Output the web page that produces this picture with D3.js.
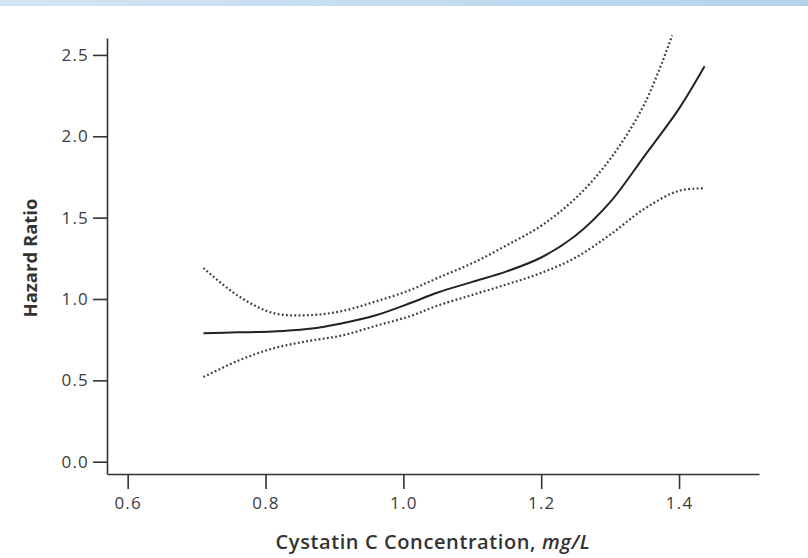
<!DOCTYPE html>
<html>
<head>
<meta charset="utf-8">
<script src="https://cdn.jsdelivr.net/npm/d3@7"></script>
<style>
  html, body { margin: 0; padding: 0; background: #fff; }
  svg { display: block; }
</style>
</head>
<body>
<svg id="chart" width="808" height="558"></svg>
<script>
// ---- data ----
const xTicks = [0.6, 0.8, 1.0, 1.2, 1.4];
const yTicks = [0.0, 0.5, 1.0, 1.5, 2.0, 2.5];

const xSolid = [0.71, 0.76, 0.81, 0.86, 0.91, 0.96, 1.01, 1.05, 1.10, 1.15, 1.20, 1.25, 1.30, 1.35, 1.40, 1.437];
const hrSolid = [0.79, 0.795, 0.80, 0.815, 0.85, 0.90, 0.975, 1.04, 1.105, 1.17, 1.255, 1.39, 1.595, 1.88, 2.17, 2.43];

const xUpper = [0.71, 0.76, 0.81, 0.86, 0.91, 0.96, 1.01, 1.05, 1.10, 1.15, 1.20, 1.25, 1.30, 1.35, 1.39];
const hrUpper = [1.19, 1.02, 0.915, 0.90, 0.925, 0.985, 1.055, 1.13, 1.22, 1.33, 1.45, 1.62, 1.86, 2.20, 2.62];

const xLower = [0.71, 0.76, 0.81, 0.86, 0.91, 0.96, 1.01, 1.05, 1.10, 1.15, 1.20, 1.25, 1.30, 1.35, 1.40, 1.437];
const hrLower = [0.52, 0.62, 0.695, 0.74, 0.775, 0.835, 0.895, 0.96, 1.025, 1.09, 1.16, 1.255, 1.395, 1.555, 1.665, 1.68];

const xTitle = "Cystatin C Concentration, ";
const xUnit = "mg/L";
const yTitle = "Hazard Ratio";

// ---- drawing ----
const svg = d3.select("#chart");
const font = "'Open Sans', 'Noto Sans', sans-serif";

// top gradient band
const defs = svg.append("defs");
const grad = defs.append("linearGradient").attr("id", "band").attr("x1", "0").attr("x2", "1");
grad.append("stop").attr("offset", "0").attr("stop-color", "#d5e5f4");
grad.append("stop").attr("offset", "1").attr("stop-color", "#b3d3ec");
svg.append("rect").attr("x", 0).attr("y", 0).attr("width", 808).attr("height", 6).attr("fill", "url(#band)");

const x = d3.scaleLinear().domain([0.57, 1.516]).range([107, 759]);
const y = d3.scaleLinear().domain([-0.0756, 2.604]).range([474, 38]);

const ax = svg.append("g").attr("transform", `translate(0,${y.range()[0]})`)
  .call(d3.axisBottom(x).tickValues(xTicks).tickFormat(d3.format(".1f")).tickSize(15).tickPadding(8).tickSizeOuter(0));
const ay = svg.append("g").attr("transform", `translate(${x.range()[0]},0)`)
  .call(d3.axisLeft(y).tickValues(yTicks).tickFormat(d3.format(".1f")).tickSize(14).tickPadding(4).tickSizeOuter(0));

[ax, ay].forEach(g => {
  g.selectAll("path.domain").attr("stroke", "#333").attr("stroke-width", 1.6);
  g.selectAll(".tick line").attr("stroke", "#333").attr("stroke-width", 1.6);
  g.selectAll(".tick text").attr("fill", "#3c3c3c").style("font-family", font)
    .style("font-size", "17px").style("letter-spacing", "1.2px");
});

const line = d3.line().x(d => x(d[0])).y(d => y(d[1])).curve(d3.curveCatmullRom.alpha(0.5));

const solid = xSolid.map((v, i) => [v, hrSolid[i]]);
const upper = xUpper.map((v, i) => [v, hrUpper[i]]);
const lower = xLower.map((v, i) => [v, hrLower[i]]);

[upper, lower].forEach(data => {
  svg.append("path").datum(data).attr("d", line)
    .attr("fill", "none").attr("stroke", "#3a3a3a").attr("stroke-width", 2.2)
    .attr("stroke-dasharray", "1.8,2.4");
});
svg.append("path").datum(solid).attr("d", line)
  .attr("fill", "none").attr("stroke", "#222").attr("stroke-width", 2);

// axis titles
const xt = svg.append("text").attr("x", (x.range()[0] + x.range()[1]) / 2).attr("y", 549)
  .attr("text-anchor", "middle").attr("fill", "#333")
  .style("font-family", font).style("font-size", "20px").style("font-weight", "600")
  .style("letter-spacing", "0.6px");
xt.append("tspan").text(xTitle);
xt.append("tspan").style("font-style", "italic").text(xUnit);

svg.append("text").attr("transform", "translate(37,258) rotate(-90)")
  .attr("text-anchor", "middle").attr("fill", "#333")
  .style("font-family", font).style("font-size", "18.5px").style("font-weight", "700")
  .text(yTitle);
</script>
</body>
</html>
